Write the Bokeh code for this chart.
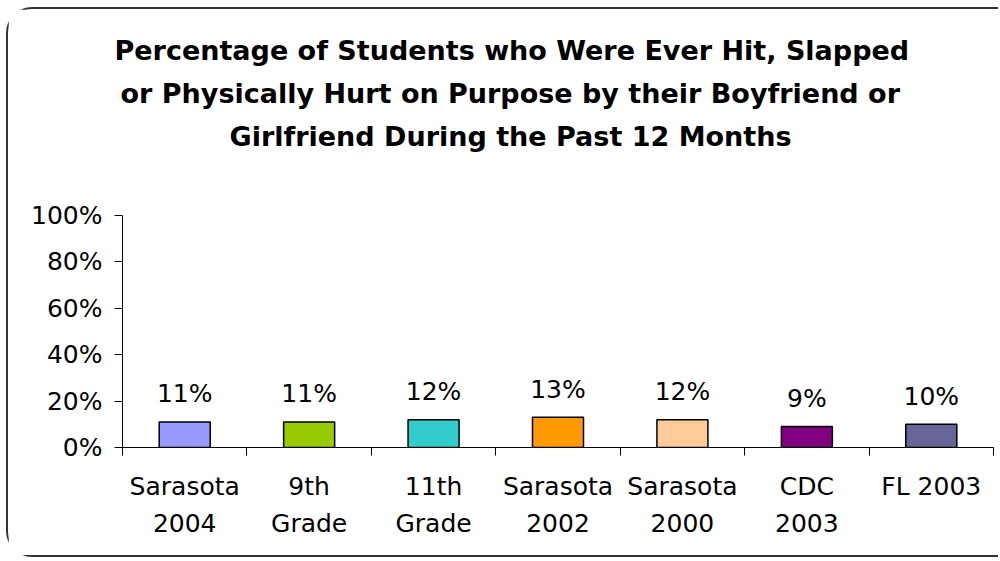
from bokeh.plotting import figure
from bokeh.layouts import column
from bokeh.models import Range1d, FixedTicker, PrintfTickFormatter, Title, ColumnDataSource
from bokeh.embed import file_html
from bokeh.resources import INLINE
from bokeh.core.properties import value

# ---- data ----
categories = ["Sarasota\n2004", "9th\nGrade", "11th\nGrade", "Sarasota\n2002",
              "Sarasota\n2000", "CDC\n2003", "FL 2003"]
percent = [11, 11, 12, 13, 12, 9, 10]
colors = ["#9999FF", "#99CC00", "#33CCCC", "#FF9900", "#FFCC99", "#800080", "#666699"]
y_ticks = [0, 20, 40, 60, 80, 100]
title_lines = [
    "Percentage of Students who Were Ever Hit, Slapped",
    "or Physically Hurt on Purpose by their Boyfriend or",
    "Girlfriend During the Past 12 Months",
]
# horizontal offsets (px, from the plot-area left edge) that centre each title line
title_offsets = [-8, -2, 107]

FONT = "DejaVu Sans"

# ---- title block ----
tf = figure(width=990, height=167, output_backend="svg", toolbar_location=None,
            x_axis_type=None, y_axis_type=None,
            min_border_left=14, min_border_right=0, min_border_top=147, min_border_bottom=0,
            background_fill_color="white", border_fill_color="white")
tf.outline_line_color = None
tf.xgrid.visible = False
tf.ygrid.visible = False
title_style = dict(align="left", text_font=FONT, text_font_style="bold",
                   text_font_size="27px", text_color="black", standoff=10)
tf.title.text = title_lines[0]
tf.title.offset = title_offsets[0]
for k, v in title_style.items():
    setattr(tf.title, k, v)
for line, off in reversed(list(zip(title_lines[1:], title_offsets[1:]))):
    tf.add_layout(Title(text=line, offset=off, **title_style), "above")

# ---- chart ----
xc = [i + 0.5 for i in range(len(categories))]
src = ColumnDataSource(dict(
    x=xc, top=percent, color=colors, label=[f"{v}%" for v in percent]
))

p = figure(
    width=990, height=379,
    x_range=Range1d(0, len(categories)), y_range=Range1d(0, 100),
    output_backend="svg", toolbar_location=None,
    min_border_left=114, min_border_right=5, min_border_top=39, min_border_bottom=108,
    background_fill_color="white", border_fill_color="white",
)
p.outline_line_color = None
p.xgrid.visible = False
p.ygrid.visible = False

p.vbar(x="x", top="top", width=0.41, fill_color="color", line_color="black",
       line_width=1.5, source=src)
p.text(x="x", y="top", text="label", y_offset=-28, text_align="center",
       text_baseline="alphabetic", text_font=value(FONT), text_font_size="25px",
       text_color="black", source=src)

# x axis: labels at centres, tick marks at category boundaries
xa = p.xaxis[0]
xa.ticker = FixedTicker(ticks=xc, minor_ticks=list(range(len(categories) + 1)))
xa.major_label_overrides = {x: c for x, c in zip(xc, categories)}
xa.major_tick_line_color = None
xa.major_tick_out = 0
xa.major_tick_in = 0
xa.minor_tick_line_color = "black"
xa.minor_tick_out = 8
xa.minor_tick_in = 0
xa.axis_line_color = "black"
xa.major_label_standoff = 16
xa.major_label_text_font = FONT
xa.major_label_text_font_size = "25px"
xa.major_label_text_color = "black"
xa.major_label_text_line_height = 1.3

ya = p.yaxis[0]
ya.ticker = FixedTicker(ticks=y_ticks, minor_ticks=[])
ya.formatter = PrintfTickFormatter(format="%d%%")
ya.major_tick_out = 8
ya.major_tick_in = 0
ya.major_tick_line_color = "black"
ya.axis_line_color = "black"
ya.major_label_standoff = 12
ya.major_label_text_font = FONT
ya.major_label_text_font_size = "25px"
ya.major_label_text_color = "black"

layout = column(tf, p, spacing=0)
layout.styles = {
    "margin-left": "6px",
    "margin-top": "7px",
    "border-top": "2px solid #333",
    "border-left": "2px solid #333",
    "border-bottom": "2px solid #333",
    "border-top-left-radius": "26px",
    "border-bottom-left-radius": "26px",
}

open("out.html", "w").write(file_html(layout, INLINE))
